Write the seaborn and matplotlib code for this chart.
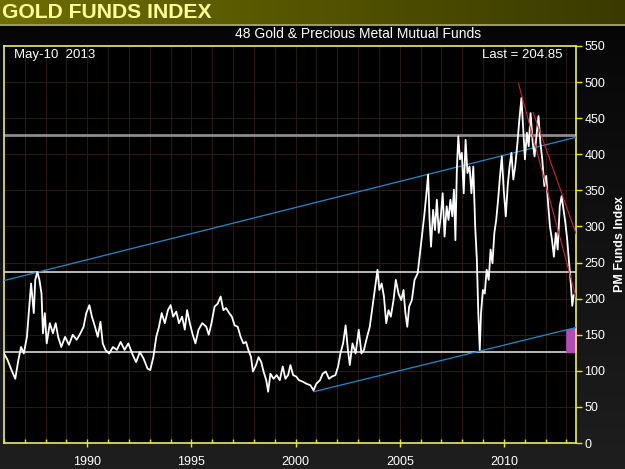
import numpy as np
import pandas as pd
import matplotlib
matplotlib.use('Agg')
import matplotlib.pyplot as plt
import seaborn as sns
from matplotlib.ticker import MultipleLocator

# gold funds index (decimal year, index value)
years = [1986.0, 1986.17, 1986.36, 1986.54, 1986.69, 1986.82, 1986.95, 1987.1, 1987.24, 1987.3,
         1987.43, 1987.5, 1987.6, 1987.7, 1987.8, 1987.87, 1987.96, 1988.05, 1988.2, 1988.35,
         1988.48, 1988.6, 1988.75, 1988.93, 1989.12, 1989.3, 1989.49, 1989.67, 1989.82, 1989.95,
         1990.1, 1990.22, 1990.37, 1990.5, 1990.63, 1990.74, 1990.87, 1991.05, 1991.23, 1991.42,
         1991.6, 1991.79, 1991.97, 1992.15, 1992.34, 1992.52, 1992.7, 1992.89, 1993.02, 1993.17,
         1993.31, 1993.44, 1993.57, 1993.72, 1993.87, 1994.0, 1994.12, 1994.27, 1994.4, 1994.55,
         1994.68, 1994.79, 1994.92, 1995.06, 1995.19, 1995.34, 1995.52, 1995.71, 1995.83, 1995.96,
         1996.11, 1996.26, 1996.4, 1996.53, 1996.66, 1996.81, 1996.94, 1997.07, 1997.22, 1997.36,
         1997.49, 1997.62, 1997.73, 1997.86, 1997.95, 1998.1, 1998.22, 1998.35, 1998.46, 1998.59,
         1998.68, 1998.79, 1998.94, 1999.09, 1999.24, 1999.38, 1999.51, 1999.64, 1999.75, 1999.88,
         2000.03, 2000.16, 2000.34, 2000.53, 2000.71, 2000.86, 2000.99, 2001.17, 2001.3, 2001.45,
         2001.6, 2001.74, 2001.91, 2002.04, 2002.15, 2002.28, 2002.4, 2002.51, 2002.6, 2002.73,
         2002.88, 2003.03, 2003.16, 2003.28, 2003.43, 2003.56, 2003.69, 2003.8, 2003.93, 2004.02,
         2004.13, 2004.24, 2004.35, 2004.46, 2004.57, 2004.7, 2004.81, 2004.94, 2005.07, 2005.18,
         2005.27, 2005.36, 2005.45, 2005.58, 2005.71, 2005.86, 2005.97, 2006.08, 2006.19, 2006.28,
         2006.36, 2006.43, 2006.5, 2006.6, 2006.69, 2006.78, 2006.87, 2006.97, 2007.06, 2007.15,
         2007.25, 2007.34, 2007.43, 2007.52, 2007.6, 2007.67, 2007.74, 2007.81, 2007.89, 2007.98,
         2008.07, 2008.16, 2008.25, 2008.35, 2008.44, 2008.53, 2008.62, 2008.7, 2008.77, 2008.84,
         2008.9, 2008.99, 2009.08, 2009.17, 2009.27, 2009.36, 2009.45, 2009.54, 2009.63, 2009.72,
         2009.81, 2009.9, 2009.99, 2010.09, 2010.18, 2010.27, 2010.36, 2010.45, 2010.54, 2010.65,
         2010.74, 2010.84, 2010.92, 2011.01, 2011.1, 2011.19, 2011.28, 2011.38, 2011.47, 2011.56,
         2011.66, 2011.75, 2011.84, 2011.94, 2012.03, 2012.12, 2012.21, 2012.31, 2012.4, 2012.49,
         2012.58, 2012.68, 2012.77, 2012.86, 2012.95, 2013.04, 2013.13, 2013.22, 2013.28, 2013.35]
values = [124, 115, 101, 89, 115, 133, 124, 147, 198, 221,
          180, 226, 237, 226, 207, 152, 180, 138, 166, 152,
          166, 147, 133, 147, 136, 150, 143, 152, 161, 180,
          191, 175, 161, 147, 168, 138, 129, 124, 133, 129,
          140, 129, 138, 124, 112, 126, 117, 103, 101, 119,
          147, 161, 180, 166, 184, 191, 175, 182, 166, 175,
          157, 184, 166, 150, 138, 157, 166, 161, 150, 166,
          189, 193, 203, 184, 187, 180, 175, 163, 161, 147,
          138, 140, 129, 119, 99, 108, 119, 112, 99, 87,
          71, 96, 89, 94, 87, 106, 89, 94, 108, 94,
          92, 87, 85, 82, 80, 73, 82, 87, 96, 99,
          89, 92, 94, 106, 124, 138, 163, 129, 108, 138,
          124, 157, 124, 129, 147, 161, 189, 212, 240, 212,
          221, 203, 166, 184, 175, 198, 226, 207, 198, 212,
          180, 161, 189, 198, 226, 235, 263, 291, 319, 346,
          372, 309, 272, 323, 295, 337, 291, 314, 346, 286,
          328, 309, 337, 314, 351, 281, 379, 425, 393, 402,
          346, 420, 374, 383, 346, 383, 300, 254, 180, 129,
          180, 212, 207, 240, 226, 268, 249, 291, 309, 337,
          369, 397, 351, 314, 356, 383, 402, 365, 383, 416,
          448, 478, 439, 393, 430, 411, 457, 416, 397, 425,
          453, 416, 393, 356, 370, 332, 300, 281, 258, 291,
          268, 328, 342, 323, 305, 281, 249, 217, 190, 205]

h_levels = [427, 236.5, 126]
upper_x, upper_y = [1986.0, 2013.46], [225, 423.6]
lower_x, lower_y = [2000.86, 2013.46], [71, 160]
red_a_x, red_a_y = [2010.70, 2013.46], [498, 202]
red_b_x, red_b_y = [2011.40, 2013.46], [458, 290]

df = pd.DataFrame({'year': years, 'index': values})

sns.set_theme(style='dark')
plt.rcParams['font.family'] = ['Liberation Sans', 'DejaVu Sans']

fig = plt.figure(figsize=(6.25, 4.69), dpi=100)
fig.patch.set_facecolor('#151515')

# background gradient
bg = fig.add_axes([0, 0, 1, 1], zorder=-5)
grad = np.linspace(0, 1, 100).reshape(-1, 1)
bg.imshow(grad, aspect='auto', cmap=matplotlib.colors.LinearSegmentedColormap.from_list(
    'bg', ['#050505', '#1e1e1e']), extent=[0, 1, 0, 1])
bg.set_axis_off()

# olive title bar
tb = fig.add_axes([0, 1 - 24 / 469, 1, 24 / 469], zorder=-4)
hgrad = np.linspace(0, 1, 200).reshape(1, -1)
tb.imshow(hgrad, aspect='auto', cmap=matplotlib.colors.LinearSegmentedColormap.from_list(
    'tb', ['#6e6e00', '#3a3a00']), extent=[0, 1, 0, 1])
tb.set_axis_off()
fig.add_artist(plt.Line2D([0, 1], [1 - 25 / 469, 1 - 25 / 469], color='#b8b880', lw=1.2))

fig.text(0.003, 1 - 12 / 469, 'GOLD FUNDS INDEX', color='#ffff99', fontsize=15.2,
         fontweight='bold', va='center', ha='left')
fig.text(358 / 625, 1 - 34 / 469, '48 Gold & Precious Metal Mutual Funds', color='white',
         fontsize=10, va='center', ha='center')

ax = fig.add_axes([4 / 625, 26 / 469, 572 / 625, 397 / 469])
ax.set_facecolor('black')

for lvl, col, lw in zip(h_levels, ['#8c8c8c', '#d8d8d8', '#d8d8d8'], [2.0, 1.2, 1.2]):
    ax.axhline(lvl, color=col, lw=lw, zorder=2)

ax.plot(upper_x, upper_y, color='#1e8cc8', lw=0.9, zorder=3)
ax.plot(lower_x, lower_y, color='#1e8cc8', lw=0.9, zorder=3)
ax.fill_between([2013.0, 2013.46], [126, 126], [156.8, 160], color='#b44cb8', zorder=2)

sns.lineplot(data=df, x='year', y='index', ax=ax, color='white', lw=1.3, zorder=4)

ax.plot(red_a_x, red_a_y, color='#c8282c', lw=0.8, zorder=5)
ax.plot(red_b_x, red_b_y, color='#c8282c', lw=0.8, zorder=5)

ax.set_xlim(1986.0, 2013.46)
ax.set_ylim(0, 550)
ax.xaxis.set_major_locator(MultipleLocator(5))
ax.xaxis.set_minor_locator(MultipleLocator(1))
ax.yaxis.set_major_locator(MultipleLocator(50))
ax.grid(True, which='both', color='#2a1818', lw=0.8)
ax.set_axisbelow(True)

ax.yaxis.tick_right()
ax.yaxis.set_label_position('right')
ax.tick_params(axis='y', which='major', colors='#e8e800', labelcolor='white', labelsize=9,
               direction='out', length=4, width=1, right=True, left=False, pad=2)
ax.tick_params(axis='x', which='major', colors='#e8e800', labelcolor='white', labelsize=9,
               direction='inout', length=6, width=1, bottom=True, pad=6)
ax.tick_params(axis='x', which='minor', colors='#e8e800', direction='in', length=3,
               width=1, bottom=True)
ax.set_xlabel('')
ax.set_ylabel('PM Funds Index', color='white', fontsize=9, fontweight='bold', labelpad=6)
for s in ax.spines.values():
    s.set_color('#e8e870')
    s.set_linewidth(1.2)

ax.text(0.018, 0.993, 'May-10  2013', transform=ax.transAxes, color='white', fontsize=9.5,
        va='top', ha='left')
ax.text(0.977, 0.993, 'Last = 204.85', transform=ax.transAxes, color='white', fontsize=9.5,
        va='top', ha='right')

fig.savefig('out.png', dpi=100)
